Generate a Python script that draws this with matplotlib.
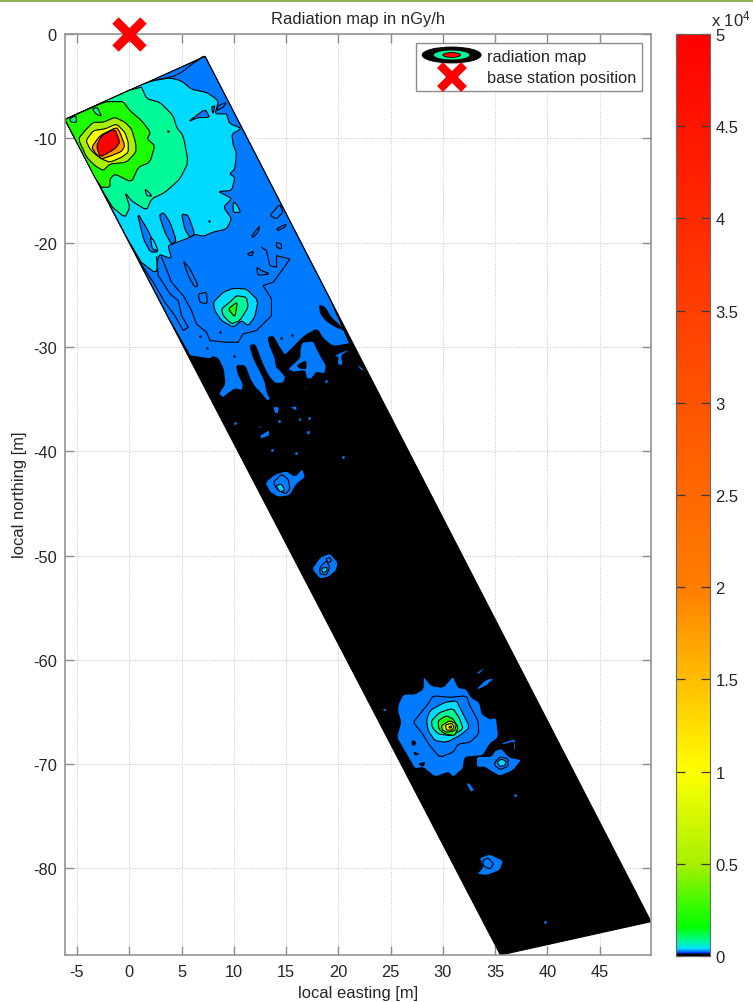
import matplotlib
matplotlib.use('Agg')
import matplotlib.pyplot as plt
from matplotlib.cm import ScalarMappable
from matplotlib.colors import LinearSegmentedColormap, Normalize
from matplotlib.legend_handler import HandlerBase
from matplotlib.lines import Line2D
from matplotlib.patches import Ellipse, Patch, Rectangle

plt.rcParams['font.family'] = ['Liberation Sans', 'DejaVu Sans']
plt.rcParams['axes.unicode_minus'] = False
plt.rcParams['mathtext.default'] = 'regular'

# colour scale, nGy/h
scale_values = [0, 100, 180, 250, 400, 800, 1550, 5000, 10000, 15000, 20000, 50000]
scale_colours = ['#000000', '#000000', '#0040ff', '#0080ff', '#00e0ff', '#00fa96',
                 '#00ff00', '#a8f000', '#ffff00', '#ffbe00', '#ff7d00', '#ff0000']

# contour levels used by the filled regions
BLACK, BLUE, CYAN, SPRING, GREEN, LIME, YELLOW, ORANGE, RED = 0, 250, 400, 800, 2100, 5000, 10000, 18000, 50000

x_ticks = [-5, 0, 5, 10, 15, 20, 25, 30, 35, 40, 45]
y_ticks = [0, -10, -20, -30, -40, -50, -60, -70, -80]
cbar_ticks = [0, 5000, 10000, 15000, 20000, 25000, 30000, 35000, 40000, 45000, 50000]
cbar_labels = ['0', '0.5', '1', '1.5', '2', '2.5', '3', '3.5', '4', '4.5', '5']
base_station = (0, 0)

# measured strip, easting / northing in metres
strip = [(-6.15, -8.2), (7.25, -2.15), (49.9, -85.1), (35.5, -88.3)]

blue_top = [(-6.15, -8.2), (7.25, -2.15), (21.37, -29.65), (19.5, -29.97), (18.55, -29.24), (17.97, -28.28), (16.79, -28.92),
            (15.68, -30.04), (14.88, -30.84), (14.25, -29.88), (13.77, -29.01), (13.29, -29.08), (13.45, -29.88),
            (13.93, -31.0), (14.09, -31.95), (14.41, -32.21), (14.98, -32.91), (14.72, -33.49), (13.93, -33.49),
            (13.39, -32.91), (12.88, -31.95), (12.49, -31.0), (12.02, -29.78), (11.54, -29.88), (11.86, -31.0),
            (12.24, -31.79), (12.97, -33.23), (13.19, -34.35), (13.51, -34.99), (13.19, -35.21), (12.65, -34.51),
            (12.02, -33.87), (11.54, -33.07), (11.06, -31.79), (10.26, -31.79), (10.42, -32.59), (10.9, -33.55),
            (10.84, -34.19), (10.1, -34.03), (9.47, -34.45), (8.99, -34.89), (8.51, -34.51), (9.15, -33.55),
            (8.99, -32.11), (8.51, -31.15), (8.03, -30.93), (7.72, -31.15), (6.76, -31.0), (5.65, -30.84)]
black_blob_a = [(18.2, -26.0), (18.7, -26.2), (19.3, -27.2), (20.6, -28.4), (19.8, -28.1), (18.85, -27.5), (18.3, -26.8)]

# first cyan area and what sits on it
cyan_top = [(-6.15, -8.2), (1.08, -4.9), (2.3, -4.47), (3.9, -4.2), (5.0, -4.5), (5.95, -5.3), (7.4, -5.6),
            (8.35, -6.25), (8.5, -6.55), (8.2, -7.65), (9.0, -7.65), (9.3, -7.65), (9.6, -8.6), (10.75, -9.05),
            (9.8, -9.6), (9.95, -10.7), (10.25, -11.35), (10.1, -12.95), (9.6, -13.4), (10.1, -13.75),
            (9.8, -15.0), (8.5, -15.1), (9.3, -15.5), (9.8, -15.8), (9.0, -16.6), (9.8, -17.7), (9.3, -18.7),
            (8.0, -19.0), (7.07, -19.4), (6.27, -19.2), (5.8, -19.5), (4.2, -20.1), (3.7, -20.3), (4.05, -21.55),
            (2.77, -21.1), (2.6, -23.0), (0.9, -21.7)]
hole_a = [(5.0, -17.25), (5.65, -17.4), (6.27, -19.2), (5.8, -19.5), (5.3, -18.7)]
hole_b = [(2.87, -17.4), (3.25, -17.1), (3.9, -18.05), (4.5, -19.8), (4.05, -20.2), (3.4, -19.0)]
hole_c = [(0.75, -17.1), (1.8, -18.85), (2.77, -20.9), (2.0, -20.9), (1.35, -19.65)]
cyan_d = [(2.0, -19.5), (2.35, -19.8), (2.77, -20.8), (2.2, -20.6)]
hole_g = [(5.65, -8.4), (7.25, -7.2), (7.7, -8.0), (6.6, -8.0)]
hole_h = [(7.87, -7.0), (8.2, -6.87), (8.0, -7.67)]
hole_i = [(8.5, -6.87), (9.3, -6.55), (9.0, -7.0), (8.35, -7.35)]
cyan_j = [(9.94, -16.1), (10.25, -16.3), (10.67, -17.1), (9.94, -17.1)]

# hot spot in the north-west corner
spring_top = [(-6.15, -8.2), (1.08, -4.9), (1.65, -6.2), (2.93, -6.55), (4.2, -7.83), (4.52, -8.95), (5.16, -9.75),
              (5.64, -12.3), (4.84, -13.9), (3.4, -15.2), (2.13, -15.8), (1.65, -16.9), (0.22, -16.0), (-0.41, -15.2),
              (0.06, -16.6), (-0.41, -17.6), (-1.8, -16.45)]
cyan_e = [(1.5, -14.85), (2.0, -15.3), (2.13, -15.55), (1.65, -15.5)]
green_top = [(-6.15, -8.2), (-2.33, -6.5), (-1.53, -6.48), (-0.58, -6.48), (0.06, -7.35), (1.17, -8.3), (2.03, -9.42),
             (1.71, -10.06), (2.45, -10.7), (1.97, -12.3), (0.85, -12.78), (0.22, -14.21), (-1.38, -13.42),
             (-1.85, -13.9), (-1.85, -14.69), (-2.81, -14.69)]
spring_f = [(-3.54, -7.19), (-3.06, -7.03), (-2.65, -7.89), (-3.19, -7.66)]
spring_g = [(-5.74, -8.14), (-5.1, -7.82), (-5.04, -8.46), (-5.52, -8.46)]
lime_top = [(-4.88, -10.06), (-4.24, -9.26), (-3.45, -8.46), (-2.49, -8.46), (-1.38, -7.98), (-0.42, -8.46), (0.22, -9.1),
            (0.63, -10.54), (0.63, -11.34), (-0.26, -12.3), (-1.85, -12.46), (-2.49, -13.1), (-3.29, -12.62), (-4.08, -11.82)]
yellow_top = [(-4.15, -10.22), (-3.45, -9.26), (-2.33, -9.1), (-1.22, -8.62), (-0.42, -9.42), (-0.1, -10.38), (-0.1, -11.34),
              (-0.74, -11.82), (-1.85, -12.3), (-2.65, -11.98), (-3.29, -11.5), (-3.76, -11.02)]
orange_top = [(-3.6, -10.86), (-2.81, -9.74), (-1.22, -8.94), (-0.9, -9.42), (-0.42, -10.7), (-0.74, -11.27), (-1.85, -11.72),
              (-2.65, -11.98), (-3.19, -11.5)]
red_top = [(-3.13, -10.7), (-2.65, -9.74), (-1.38, -9.1), (-0.9, -10.38), (-1.38, -11.02), (-2.81, -11.82)]

# spot near (10, -26)
cyan_p2 = [(8.03, -25.72), (8.98, -24.76), (9.94, -24.38), (11.21, -24.44), (12.32, -25.56), (12.0, -27.16), (11.37, -27.96),
           (10.73, -27.48), (9.94, -28.12), (8.82, -27.48), (8.18, -26.52)]
spring_p2 = [(8.82, -26.36), (9.78, -25.56), (10.25, -25.08), (11.21, -25.24), (11.37, -26.2), (10.57, -27.48), (9.78, -27.8), (8.98, -27.0)]
green_p2 = [(9.46, -26.36), (10.35, -25.66), (10.1, -27.16)]

# closed contours inside the blue area
blue_a = [(14.4, -16.3), (14.7, -17.1), (14.08, -17.73), (13.44, -17.4)]
blue_b = [(14.08, -18.7), (15.03, -18.2), (14.87, -18.53), (14.24, -18.85)]
blue_c = [(11.69, -19.4), (12.48, -18.37), (12.32, -19.0), (11.85, -19.5)]
blue_d = [(14.08, -19.97), (14.55, -20.13), (14.55, -20.6), (14.08, -20.45)]
blue_e = [(11.27, -21.09), (11.91, -20.83), (11.69, -21.31)]
blue_f = [(12.17, -22.36), (12.64, -22.68), (13.44, -23.0), (12.32, -23.16)]
blue_i = [(5.16, -21.73), (5.8, -22.52), (6.59, -24.12), (6.27, -24.28), (5.64, -23.16)]
blue_j = [(6.59, -24.92), (7.39, -24.76), (7.45, -25.88), (6.75, -25.72)]

# open contour lines
line_long = [(12.64, -20.45), (13.12, -20.77), (13.44, -22.2), (14.08, -22.36), (14.08, -21.25), (15.35, -21.57), (14.71, -22.52),
             (13.76, -23.8), (12.8, -24.12), (13.6, -25.4), (13.6, -27.0), (12.17, -28.43), (10.89, -28.75), (10.41, -29.55),
             (9.3, -29.55), (7.71, -29.39), (7.39, -28.6), (6.43, -27.8), (5.96, -26.52), (5.16, -25.08), (4.04, -23.8), (3.09, -21.4)]
line_finger = [(2.6, -21.4), (2.77, -23.16), (3.9, -24.92), (4.68, -25.56), (5.0, -27.0), (5.64, -28.12), (5.16, -28.43),
               (4.36, -27.0), (3.4, -25.72), (2.29, -23.8), (1.02, -21.88)]
line_top = [(2.6, -4.4), (4.2, -4.06), (5.0, -3.67), (5.8, -3.04), (7.07, -2.14)]

# blue islands in the black area
isle_big = [(16.47, -29.56), (17.59, -29.4), (17.97, -30.2), (18.39, -31.0), (18.86, -31.79), (18.7, -32.59), (17.91, -32.43),
            (17.43, -33.07), (16.95, -33.07), (16.79, -32.27), (15.68, -32.43), (15.14, -32.11), (15.84, -31.47), (16.32, -31.0),
            (16.32, -30.36)]
isle_big_hole = [(16.06, -31.79), (16.89, -31.31), (16.89, -32.11), (16.32, -32.02)]
isle_t = [(19.5, -30.84), (21.25, -30.1), (20.78, -30.52), (20.3, -30.84), (20.46, -31.79), (19.88, -31.7), (19.98, -31.0)]
isle_1 = [(21.73, -31.57), (22.62, -32.27), (22.2, -32.27), (21.89, -31.95)]
isle_2 = [(16.89, -33.62), (17.14, -34.13), (16.89, -34.03)]
isle_3 = [(13.7, -35.72), (14.34, -35.72), (14.28, -36.36), (13.93, -36.43)]
isle_4 = [(15.3, -35.79), (16.0, -35.63), (16.06, -36.17)]
isle_5 = [(16.16, -36.6), (16.57, -37.0), (16.25, -37.24)]
isle_6 = [(12.24, -37.5), (12.65, -37.62), (12.5, -37.88)]
isle_7 = [(12.43, -38.5), (13.39, -37.94), (13.45, -38.5), (12.65, -38.83)]
isle_8 = [(16.95, -38.03), (17.33, -38.03), (17.27, -38.5), (16.95, -38.35)]
isle_9 = [(9.15, -35.63), (9.63, -36.17), (9.31, -36.04)]
isle_10 = [(7.88, -34.89), (8.13, -34.77), (8.04, -35.02)]
dot_east = [14.34, 17.2, 20.46, 15.9, 13.67, 10.1, 18.86, 36.87, 39.8]
dot_north = [-37.14, -36.8, -40.6, -40.2, -39.9, -37.3, -33.3, -72.96, -85.1]
pit_east = [6.76, 8.67, 10.01, 7.46, 14.5, 15.52, 7.6, 3.7]
pit_north = [-28.92, -28.6, -30.84, -30.1, -29.14, -28.82, -17.9, -9.3]

# spot near (14.5, -43)
blue_p3 = [(12.97, -42.99), (13.93, -42.19), (15.04, -41.87), (15.84, -42.41), (16.57, -41.64), (16.86, -42.5), (16.0, -43.15),
           (15.36, -44.26), (14.25, -44.42), (13.45, -43.94)]
inner_p3 = [(13.77, -42.99), (14.56, -42.19), (15.2, -42.67), (15.36, -43.62), (14.98, -44.1), (14.15, -43.69)]
cyan_p3 = [(14.02, -43.3), (14.56, -43.15), (14.88, -43.78), (14.4, -43.88)]

# spot near (18.5, -51)
blue_p4 = [(17.43, -51.29), (18.23, -50.17), (19.18, -49.76), (19.98, -50.65), (19.82, -51.45), (19.02, -52.09), (18.23, -52.25)]
inner_p4 = [(18.23, -51.13), (18.86, -50.5), (19.18, -51.13), (18.86, -51.87), (18.23, -51.77)]
ring_p4 = [(18.8, -50.33), (19.18, -50.17), (19.34, -50.5), (19.02, -50.72)]
cyan_p4 = [(18.39, -51.23), (18.93, -51.13), (18.86, -51.55), (18.48, -51.61)]

# big spot near (30.5, -66)
blue_p5 = [(25.72, -64.23), (26.2, -63.28), (27.31, -63.28), (28.11, -62.8), (28.11, -61.52), (28.9, -62.48), (30.02, -62.64),
           (30.97, -61.52), (31.45, -62.64), (32.25, -62.8), (32.72, -63.6), (33.52, -64.07), (33.74, -65.19), (34.48, -65.67),
           (35.11, -65.51), (35.34, -67.43), (34.48, -68.07), (33.84, -69.19), (33.04, -69.25), (32.09, -69.35), (31.93, -70.46),
           (30.97, -71.26), (30.5, -70.78), (29.22, -71.26), (28.11, -70.3), (27.31, -70.46), (26.67, -69.35), (26.2, -68.55),
           (25.56, -67.43), (25.97, -66.0), (25.65, -64.87)]
lobe_p5 = [(33.2, -69.25), (34.64, -69.25), (34.95, -68.71), (35.59, -68.48), (36.39, -69.35), (37.57, -69.57), (36.71, -70.62),
           (35.43, -71.17), (34.48, -70.62), (34.0, -70.3), (33.2, -70.3)]
pit_1 = [(27.06, -67.75), (27.37, -67.85), (27.31, -68.16), (27.06, -68.16)]
pit_2 = [(27.25, -68.87), (27.69, -69.03), (27.31, -69.12)]
pit_3 = [(27.69, -69.99), (28.27, -69.83), (28.11, -70.21)]
inner_p5 = [(27.15, -65.99), (27.79, -65.19), (28.58, -64.23), (29.06, -63.44), (30.65, -63.6), (32.25, -63.44), (32.57, -64.39),
            (33.36, -65.83), (33.43, -67.11), (32.57, -67.91), (31.45, -68.07), (30.97, -68.87), (29.7, -69.35), (28.74, -68.23), (27.95, -66.95)]
cyan_p5 = [(28.43, -65.83), (28.74, -64.87), (30.18, -64.07), (31.29, -63.92), (31.77, -64.87), (32.57, -66.47), (31.61, -67.27),
           (30.34, -67.91), (29.22, -67.75), (28.58, -66.79)]
spring_p5 = [(28.9, -65.83), (29.7, -65.03), (30.97, -64.65), (31.61, -65.67), (31.93, -66.63), (30.81, -67.27), (29.54, -67.11), (28.97, -66.47)]
green_p5 = [(29.54, -65.83), (30.34, -65.35), (30.97, -65.67), (31.45, -66.47), (31.13, -67.27), (30.18, -67.11), (29.6, -66.63)]
lime_p5 = [(29.86, -66.31), (30.65, -65.83), (31.29, -66.15), (31.13, -66.79), (30.34, -66.95), (29.92, -66.69)]
yellow_p5 = [(30.24, -66.25), (30.81, -66.09), (31.07, -66.38), (30.88, -66.73), (30.34, -66.73)]
orange_p5 = [(30.59, -66.38), (30.81, -66.34), (30.81, -66.53), (30.59, -66.53)]
bits_a = [(33.21, -61.2), (34.0, -60.72), (33.84, -61.04), (33.37, -61.42)]
bits_b = [(33.21, -62.73), (34.16, -61.84), (34.96, -61.77), (34.16, -62.48), (33.37, -62.86)]
bits_c = [(24.13, -64.71), (24.77, -64.62), (24.45, -65.03)]
bits_d = [(25.08, -66.15), (25.47, -66.05), (25.24, -66.31)]
bits_e = [(24.45, -66.31), (24.77, -66.15), (24.61, -66.41)]
bits_f = [(32.19, -71.8), (32.57, -71.8), (33.05, -72.54), (32.63, -72.7)]
bits_g = [(35.59, -67.97), (36.93, -67.53), (36.93, -68.71), (36.71, -68.55), (36.8, -67.85), (35.75, -68.16)]

# spot near (35.5, -70)
line_p6 = [(34.96, -69.82), (35.5, -69.28), (36.23, -69.5), (36.23, -70.21), (35.5, -70.53), (34.96, -70.14)]
cyan_p6 = [(35.18, -69.82), (35.6, -69.5), (36.07, -69.76), (35.91, -70.14), (35.44, -70.21)]

# spot near (34.5, -80)
blue_p7 = [(33.21, -80.53), (33.84, -79.89), (33.46, -78.99), (34.48, -78.61), (35.82, -79.25), (35.44, -80.21), (34.16, -80.69)]
inner_p7 = [(33.78, -79.25), (34.32, -78.99), (34.86, -79.57), (34.48, -80.05), (33.91, -79.79)]

regions = [
    (BLUE, blue_top), (BLACK, black_blob_a),
    (CYAN, cyan_top), (BLUE, hole_a), (BLUE, hole_b), (BLUE, hole_c), (CYAN, cyan_d), (BLUE, hole_g), (BLUE, hole_h),
    (BLUE, hole_i), (CYAN, cyan_j),
    (SPRING, spring_top), (CYAN, cyan_e), (GREEN, green_top), (SPRING, spring_f), (SPRING, spring_g), (LIME, lime_top),
    (YELLOW, yellow_top), (ORANGE, orange_top), (RED, red_top),
    (CYAN, cyan_p2), (SPRING, spring_p2), (GREEN, green_p2),
    (BLUE, blue_a), (BLUE, blue_b), (BLUE, blue_c), (BLUE, blue_d), (BLUE, blue_e), (BLUE, blue_f), (BLUE, blue_i), (BLUE, blue_j),
    (BLUE, isle_big), (BLACK, isle_big_hole), (BLUE, isle_t), (BLUE, isle_1), (BLUE, isle_2), (BLUE, isle_3), (BLUE, isle_4),
    (BLUE, isle_5), (BLUE, isle_6), (BLUE, isle_7), (BLUE, isle_8), (BLUE, isle_9), (BLUE, isle_10),
    (BLUE, blue_p3), (BLUE, inner_p3), (CYAN, cyan_p3),
    (BLUE, blue_p4), (BLUE, inner_p4), (BLUE, ring_p4), (CYAN, cyan_p4),
    (BLUE, blue_p5), (BLUE, lobe_p5), (BLACK, pit_1), (BLACK, pit_2), (BLACK, pit_3), (BLUE, inner_p5), (CYAN, cyan_p5),
    (SPRING, spring_p5), (GREEN, green_p5), (LIME, lime_p5), (YELLOW, yellow_p5), (ORANGE, orange_p5),
    (BLUE, bits_a), (BLUE, bits_b), (BLUE, bits_c), (BLUE, bits_d), (BLUE, bits_e), (BLUE, bits_f), (BLUE, bits_g),
    (BLUE, line_p6), (CYAN, cyan_p6), (BLUE, blue_p7), (BLUE, inner_p7),
]
open_lines = [line_long, line_finger, line_top]


def rounded(pts):
    # one light pass of corner cutting, the strip corners stay sharp
    cut = 0.15
    out = []
    for i, p in enumerate(pts):
        q = pts[(i + 1) % len(pts)]
        if p in strip:
            out.append(p)
        else:
            out.append(((1 - cut) * p[0] + cut * q[0], (1 - cut) * p[1] + cut * q[1]))
        if q not in strip:
            out.append((cut * p[0] + (1 - cut) * q[0], cut * p[1] + (1 - cut) * q[1]))
    return out


class HandlerRings(HandlerBase):
    # legend icon of the filled contours: nested ellipses
    def create_artists(self, legend, orig_handle, xdescent, ydescent, width, height, fontsize, trans):
        cx = width / 2 - xdescent
        cy = height / 2 - ydescent
        rings = []
        for scale, colour in [(1.0, 'black'), (0.62, cmap(norm(SPRING))), (0.3, cmap(norm(RED)))]:
            rings.append(Ellipse((cx, cy), width * scale, 11.5 * scale, facecolor=colour,
                                 edgecolor='black', linewidth=0.6, transform=trans))
        return rings


W, H = 753.0, 1003.0
text_colour = '#262626'
grey = '#8c8c8c'

cmap = LinearSegmentedColormap.from_list('radiation', [(v / 50000, c) for v, c in zip(scale_values, scale_colours)], N=4096)
norm = Normalize(0, 50000)

fig = plt.figure(figsize=(W / 100, H / 100), dpi=100)
fig.add_artist(Rectangle((0, 1 - 3 / H), 1, 3 / H, transform=fig.transFigure, color='#8db45a', lw=0))

ax = fig.add_axes([65 / W, 1 - 955.5 / H, 586 / W, 920.5 / H])
xs, ys = zip(*strip)
ax.fill(xs, ys, facecolor='black', edgecolor='black', linewidth=0.8, zorder=2)
for level, pts in regions:
    xs, ys = zip(*rounded(pts))
    ax.fill(xs, ys, facecolor=cmap(norm(level)), edgecolor='black', linewidth=0.8, zorder=2)
for pts in open_lines:
    xs, ys = zip(*pts)
    ax.plot(xs, ys, color='black', linewidth=0.8, zorder=3)
ax.scatter(dot_east, dot_north, s=4, color=cmap(norm(BLUE)), linewidths=0, zorder=3)
ax.scatter(pit_east, pit_north, s=3, color='black', linewidths=0, zorder=3)

ax.plot(base_station[0], base_station[1], marker='x', ms=20, mew=6.5, color='red', clip_on=False, zorder=6, linestyle='none')

ax.set_xlim(-6.15, 49.9)
ax.set_ylim(-88.25, 0)
ax.set_xticks(x_ticks)
ax.set_yticks(y_ticks)
ax.grid(True, linestyle=':', linewidth=0.7, color='#c4c4c4', zorder=0)
ax.set_axisbelow(True)
ax.tick_params(direction='in', length=6.5, width=1, color=grey, top=True, right=True, labelsize=11.8,
               labelcolor=text_colour, pad=6)
ax.tick_params(axis='x', pad=7)
for spine in ax.spines.values():
    spine.set_color(grey)
    spine.set_linewidth(1.1)
ax.set_xlabel('local easting [m]', fontsize=11.9, color=text_colour, labelpad=4.5)
ax.set_ylabel('local northing [m]', fontsize=11.9, color=text_colour, labelpad=4)
ax.set_title('Radiation map in nGy/h', fontsize=11.9, color=text_colour, pad=8)

handles = [Patch(label='radiation map'),
           Line2D([], [], marker='x', ms=17, mew=6, color='red', linestyle='none', label='base station position')]
leg = ax.legend(handles=handles, handler_map={Patch: HandlerRings()}, loc='upper right',
                bbox_to_anchor=(642 / W, 1 - 44 / H), bbox_transform=fig.transFigure, borderaxespad=0,
                fontsize=11.8, fancybox=False, framealpha=1, edgecolor=grey, handlelength=3.6,
                handletextpad=0.35, labelspacing=0.4, borderpad=0.35)
leg.get_frame().set_linewidth(1.0)
leg.set_zorder(5)
for t in leg.get_texts():
    t.set_color(text_colour)

cax = fig.add_axes([676 / W, 1 - 957 / H, 34 / W, 922 / H])
cbar = fig.colorbar(ScalarMappable(norm=norm, cmap=cmap), cax=cax)
cbar.set_ticks(cbar_ticks)
cbar.set_ticklabels(cbar_labels)
cbar.outline.set_linewidth(0.8)
cbar.outline.set_edgecolor('#666666')
cax.tick_params(direction='in', length=6.5, width=0.9, color='#3a3a3a', left=True, right=True, labelsize=12,
                labelcolor=text_colour, pad=4)
fig.text(711 / W, 1 - 26 / H, 'x 10$^{4}$', fontsize=12, color=text_colour)

fig.savefig('out.png', dpi=100)
